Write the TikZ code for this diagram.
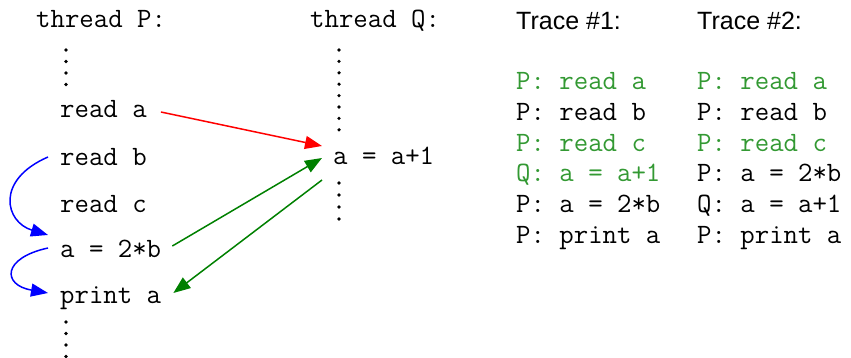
\documentclass[tikz,border=0pt]{standalone}
\usepackage{fontspec}
\setsansfont{Liberation Sans}
\usetikzlibrary{arrows.meta}
\definecolor{arrgreen}{RGB}{0,128,0}
\definecolor{txtgreen}{RGB}{51,153,51}
\tikzset{
  code/.style={anchor=base west,inner sep=0pt,font=\fontsize{28}{30}\selectfont\ttfamily},
  head/.style={anchor=base west,inner sep=0pt,font=\fontsize{25}{28}\selectfont\sffamily},
  hl/.style={code,text=txtgreen},
  dot/.style={fill=black},
  conn/.style={line width=1.5pt,-{Triangle[length=17pt,width=13pt]}}
}
\begin{document}
\begin{tikzpicture}[x=1pt,y=-1pt]
\useasboundingbox (0,0) rectangle (851,358);
% thread P
\node[code] (tp) at (36,28) {thread P:};
\node[code] (ra) at (60,118) {read a};
\node[code] (rb) at (60,166) {read b};
\node[code] (rc) at (60,212) {read c};
\node[code] (ab) at (60,257) {a = 2*b};
\node[code] (pa) at (60,303) {print a};
\foreach \y in {50,61.5,73,84.5} \fill[dot] (66,\y) circle (1.8);
\foreach \y in {322,333.5,345,356.5} \fill[dot] (66,\y) circle (1.8);
% thread Q
\node[code] (tq) at (310,28) {thread Q:};
\node[code] (qa) at (333,165) {a = a+1};
\foreach \y in {50,61.4,72.8,84.2,95.6,107,118.4,129.8} \fill[dot] (339,\y) circle (1.8);
\foreach \y in {183,195,207,219} \fill[dot] (339,\y) circle (1.8);
% traces
\node[head] (h1) at (516,30) {Trace \#1:};
\node[head] (h2) at (697,30) {Trace \#2:};
\node[hl]   (a1) at (516,90)  {P: read a};
\node[code] (a2) at (516,121) {P: read b};
\node[hl]   (a3) at (516,152) {P: read c};
\node[hl]   (a4) at (516,182) {Q: a = a+1};
\node[code] (a5) at (516,213) {P: a = 2*b};
\node[code] (a6) at (516,243) {P: print a};
\node[hl]   (b1) at (697,90)  {P: read a};
\node[code] (b2) at (697,121) {P: read b};
\node[hl]   (b3) at (697,152) {P: read c};
\node[code] (b4) at (697,182) {P: a = 2*b};
\node[code] (b5) at (697,213) {Q: a = a+1};
\node[code] (b6) at (697,243) {P: print a};
% connectors
\draw[conn,red] ([shift={(14,-6)}]ra.base east) -- ([shift={(-11,-19)}]qa.base west);
\draw[conn,arrgreen] ([shift={(11,-11)}]ab.base east) -- ([shift={(-11,-7)}]qa.base west);
\draw[conn,arrgreen] ([shift={(-11,15)}]qa.base west) -- ([shift={(12,-10)}]pa.base east);
\draw[conn,blue] ([shift={(-12,-9)}]rb.base west) .. controls +(-53,23) and +(-43,-13) .. ([shift={(-12,-22)}]ab.base west);
\draw[conn,blue] ([shift={(-12,-9)}]ab.base west) .. controls +(-46,10) and +(-46,-8) .. ([shift={(-12,-10)}]pa.base west);
\end{tikzpicture}
\end{document}
